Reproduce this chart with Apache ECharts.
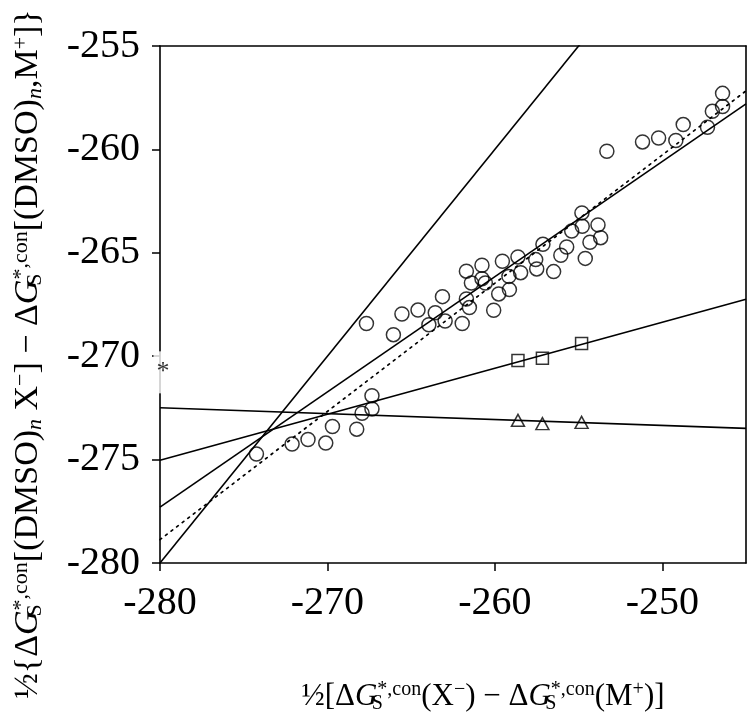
<!DOCTYPE html>
<html>
<head>
<meta charset="utf-8">
<title>Solvation free energy correlation</title>
<script src="https://cdn.jsdelivr.net/npm/echarts@6/dist/echarts.min.js"></script>
<style>
  html, body { margin: 0; padding: 0; background: #fff; }
  #chart { width: 748px; height: 716px; }
</style>
</head>
<body>
<div id="chart"></div>
<script>
// circles (DMSO complexes)
const circleX = [-274.24, -272.11, -271.16, -270.10, -269.70, -268.25, -267.93, -267.34, -267.34, -267.67,
  -266.06, -265.55, -264.59, -263.56, -263.94, -262.97, -261.95, -263.13, -261.70, -261.52,
  -261.70, -261.40, -260.77, -260.77, -260.57, -260.07, -259.77, -259.13, -259.55, -259.16,
  -258.62, -258.46, -257.56, -257.50, -257.13, -256.49, -256.06, -255.71, -254.60, -255.41,
  -254.78, -254.32, -253.84, -254.80, -253.68, -253.31, -251.18, -250.22, -249.19, -248.75,
  -247.30, -247.01, -246.40, -246.40];
const circleY = [-274.73, -274.25, -274.03, -274.20, -273.40, -273.53, -272.76, -272.55, -271.91, -268.42,
  -268.96, -267.96, -267.77, -267.90, -268.48, -268.30, -268.42, -267.12, -267.23, -267.65,
  -265.89, -266.46, -265.60, -266.25, -266.46, -267.78, -266.99, -266.78, -265.41, -266.14,
  -265.20, -265.96, -265.33, -265.78, -264.59, -265.91, -265.12, -264.72, -265.27, -263.95,
  -263.72, -264.49, -263.65, -263.07, -264.27, -260.09, -259.64, -259.45, -259.57, -258.80,
  -258.93, -258.16, -257.93, -257.29];

// squares and triangles
const squareX = [-258.62, -257.16, -254.82];
const squareY = [-270.21, -270.10, -269.38];
const triangleX = [-258.62, -257.16, -254.82];
const triangleY = [-273.10, -273.26, -273.20];

// fitted lines, values at the two ends of the x range
const lineX = [-280, -245];
const identityY = [-280, -245];
const circleFitY = [-277.3, -257.8];
const dottedFitY = [-278.87, -257.17];
const squareFitY = [-275.03, -267.25];
const triangleFitY = [-272.49, -273.49];

// the starred value on the y axis
const starPoint = [-280, -270.78];

const xTickValues = [-280, -270, -260, -250];
const yTickValues = [-280, -275, -270, -265, -260, -255];

const xTitle = '½[Δ{it|G}{sub|S}{sup|*,con}(X{sup|−}) − Δ{it|G}{sub|S}{sup|*,con}(M{sup|+})]';
const yTitle = '½{Δ{it|G}{sub|S}{sup|*,con}[(DMSO){itsub|n} X{sup|−}] − Δ{it|G}{sub|S}{sup|*,con}[(DMSO){itsub|n},M{sup|+}]}';

const serif = "'Liberation Serif', 'Times New Roman', serif";

function zip(xs, ys) {
  return xs.map((x, i) => [x, ys[i]]);
}

// rich styles, for axis names (color) and for graphic text (fill)
function richStyles(key, size) {
  const c = {};
  c[key] = '#000';
  const small = Math.round(size * 0.64);
  return {
    it: Object.assign({ fontFamily: serif, fontSize: size, fontStyle: 'italic' }, c),
    sub: Object.assign({ fontFamily: serif, fontSize: small, verticalAlign: 'bottom', width: 0 }, c),
    sup: Object.assign({ fontFamily: serif, fontSize: small, verticalAlign: 'top' }, c),
    itsub: Object.assign({ fontFamily: serif, fontSize: small, fontStyle: 'italic', verticalAlign: 'bottom' }, c)
  };
}

const chart = echarts.init(document.getElementById('chart'));

const solid = { color: '#000', width: 1.6 };
const hollow = { color: 'rgba(0,0,0,0)', borderColor: '#000', borderWidth: 1.5 };

function fitLine(ys, style) {
  return {
    type: 'line',
    data: zip(lineX, ys),
    symbol: 'none',
    clip: true,
    silent: true,
    lineStyle: style,
    z: 1
  };
}

chart.setOption({
  animation: false,
  backgroundColor: '#fff',
  grid: { left: 160, right: 2, top: 46, bottom: 153, containLabel: false, outerBoundsMode: 'none' },
  xAxis: [{
    type: 'value',
    min: -280,
    max: -245,
    position: 'bottom',
    axisLine: { lineStyle: { color: '#000', width: 1.6 } },
    axisTick: { length: 8, customValues: xTickValues, lineStyle: { color: '#000', width: 1.5 } },
    axisLabel: {
      customValues: xTickValues,
      margin: 20,
      fontFamily: serif,
      fontSize: 40,
      color: '#000'
    },
    splitLine: { show: false },
    name: xTitle,
    nameLocation: 'middle',
    nameGap: 117,
    nameTextStyle: {
      fontFamily: serif,
      fontSize: 31,
      lineHeight: 34,
      color: '#000',
      padding: [0, 0, 0, 60],
      rich: richStyles('color', 31)
    }
  }, {
    type: 'value',
    min: -280,
    max: -245,
    position: 'top',
    axisLine: { lineStyle: { color: '#000', width: 1.6 } },
    axisTick: { show: false },
    axisLabel: { show: false },
    splitLine: { show: false }
  }],
  yAxis: [{
    type: 'value',
    min: -280,
    max: -255,
    interval: 5,
    position: 'left',
    axisLine: { lineStyle: { color: '#000', width: 1.6 } },
    axisTick: { length: 8, customValues: yTickValues, lineStyle: { color: '#000', width: 1.5 } },
    axisLabel: {
      customValues: yTickValues,
      margin: 20,
      fontFamily: serif,
      fontSize: 40,
      color: '#000'
    },
    splitLine: { show: false }
  }, {
    type: 'value',
    min: -280,
    max: -255,
    position: 'right',
    axisLine: { lineStyle: { color: '#000', width: 1.6 } },
    axisTick: { show: false },
    axisLabel: { show: false },
    splitLine: { show: false }
  }],
  graphic: [{
    type: 'text',
    x: 28,
    y: 354,
    rotation: Math.PI / 2,
    silent: true,
    style: {
      text: yTitle,
      fontFamily: serif,
      fontSize: 34,
      lineHeight: 36,
      fill: '#000',
      align: 'center',
      verticalAlign: 'middle',
      rich: richStyles('fill', 34)
    }
  }],
  series: [
    fitLine(identityY, solid),
    fitLine(circleFitY, solid),
    fitLine(dottedFitY, { color: '#000', width: 1.7, type: [2, 5], cap: 'round' }),
    fitLine(squareFitY, solid),
    fitLine(triangleFitY, solid),
    {
      type: 'scatter',
      data: zip(circleX, circleY),
      symbol: 'circle',
      symbolSize: 14,
      itemStyle: hollow,
      z: 3
    },
    {
      type: 'scatter',
      data: zip(squareX, squareY),
      symbol: 'rect',
      symbolSize: 12,
      itemStyle: hollow,
      z: 3
    },
    {
      type: 'scatter',
      data: zip(triangleX, triangleY),
      symbol: 'triangle',
      symbolSize: [13, 12],
      itemStyle: hollow,
      z: 3
    },
    {
      type: 'scatter',
      data: [starPoint],
      symbolSize: 1,
      itemStyle: { color: 'rgba(0,0,0,0)' },
      silent: true,
      z: 4,
      label: {
        show: true,
        position: 'inside',
        formatter: '*',
        offset: [3, 0],
        fontFamily: serif,
        fontSize: 26,
        lineHeight: 26,
        color: '#000',
        backgroundColor: '#fff',
        padding: [4, 3, 12, 3]
      }
    }
  ]
});
</script>
</body>
</html>
